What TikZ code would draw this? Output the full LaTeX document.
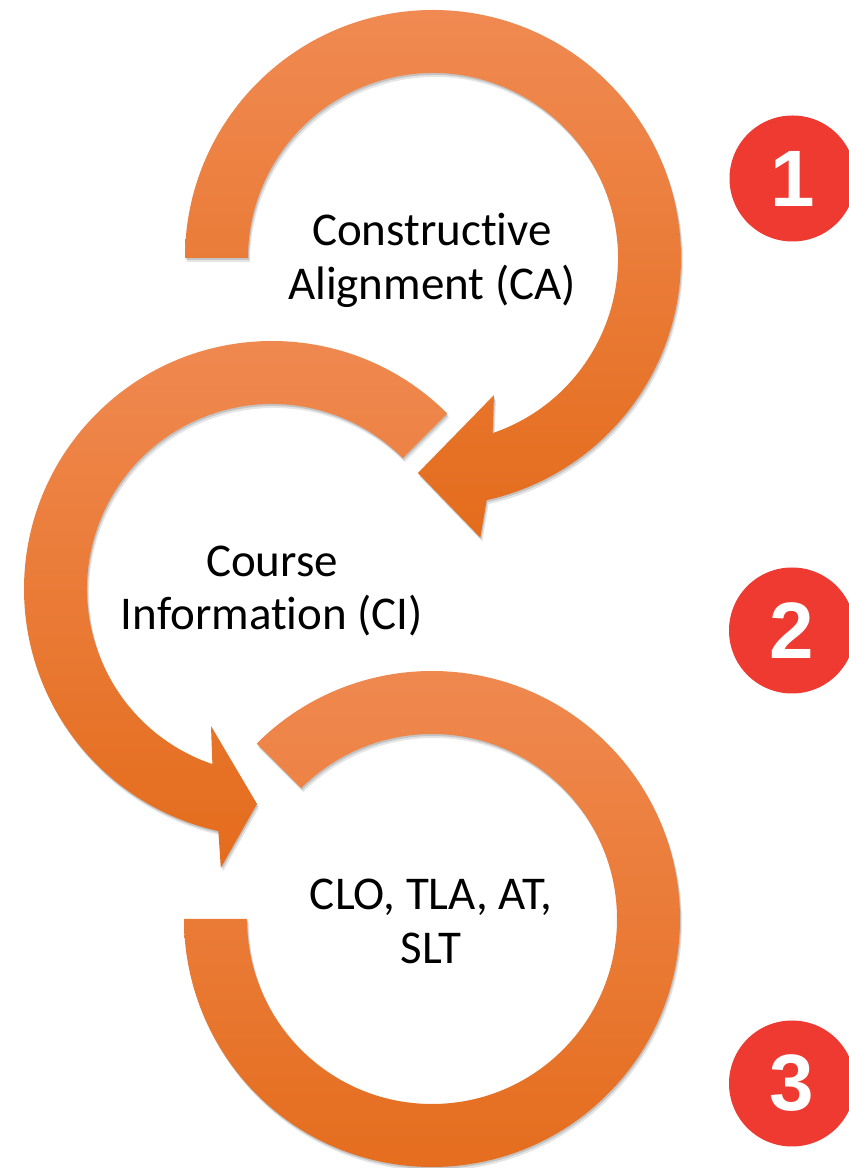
\documentclass[tikz,border=0pt]{standalone}
\usepackage{fontspec}
\setmainfont{Carlito}[Ligatures={NoCommon,NoRequired,NoContextual}]
\newfontfamily\digitfont{Liberation Sans}
\definecolor{arrowtop}{HTML}{F08A52}
\definecolor{arrowmid}{HTML}{F47F2F}
\definecolor{arrowbot}{HTML}{E46C1C}
\definecolor{badgered}{HTML}{EE3A31}
\begin{document}
\begin{tikzpicture}[x=1pt,y=1pt,
  band/.style={top color=arrowtop, middle color=arrowmid, bottom color=arrowbot,
    preaction={fill=black, opacity=0.10, transform canvas={shift={(2pt,-4pt)}}},
    preaction={fill=black, opacity=0.14, transform canvas={shift={(1pt,-2pt)}}}},
  lbl/.style={anchor=base, inner sep=0pt, text=black, font=\fontsize{47}{54}\selectfont},
  badge/.style={circle, fill=badgered, minimum size=126pt, inner sep=0pt, text=white,
    font=\digitfont\bfseries\fontsize{80}{80}\selectfont}]
\useasboundingbox (0,0) rectangle (849,1168);
\clip (0,0) rectangle (849,1168);
\fill[white] (0,0) rectangle (849,1168);

\coordinate (c1) at (433,910);
\coordinate (c2) at (272,579);
\coordinate (c3) at (432,249);

% arrow 1 (clockwise, head at lower left)
\begin{scope}[shift={(c1)}]
\shade[band] (180:248) arc[start angle=180, end angle=-77.5, radius=248]
  -- (-80.4:283.5) -- (-94:215.5) -- (-66:150) -- (-71.2:185)
  arc[start angle=-71.2, end angle=180, radius=185] -- cycle;
\end{scope}

% arrow 2 (counter-clockwise, head at lower right)
\begin{scope}[shift={(c2)}]
\shade[band] (45:248) arc[start angle=45, end angle=257.5, radius=248]
  -- (259.6:283.5) -- (266:215.5) -- (246:150) -- (251.2:185)
  arc[start angle=251.2, end angle=45, radius=185] -- cycle;
\end{scope}

% arrow 3 (clockwise, flat ends)
\begin{scope}[shift={(c3)}]
\shade[band] (135:248) arc[start angle=135, end angle=-180, radius=248]
  -- (-180:185) arc[start angle=-180, end angle=135, radius=185] -- cycle;
\end{scope}

% labels
\node[lbl] (ca1) at (432,922.4) {Constructive};
\node[lbl] (ca2) at (432,868.7) {Alignment (CA)};
\node[lbl] (ci1) at (272,591.3) {Course};
\node[lbl] (ci2) at (272,538) {Information (CI)};
\node[lbl] (clo1) at (431,258) {CLO, TLA, AT,};
\node[lbl] (clo2) at (431,204) {SLT};

% numbered badges
\node[badge] (b1) at (792.5,989.5) {1};
\node[badge] (b2) at (792,537.5) {2};
\node[badge] (b3) at (792,84.5) {3};
\end{tikzpicture}
\end{document}
